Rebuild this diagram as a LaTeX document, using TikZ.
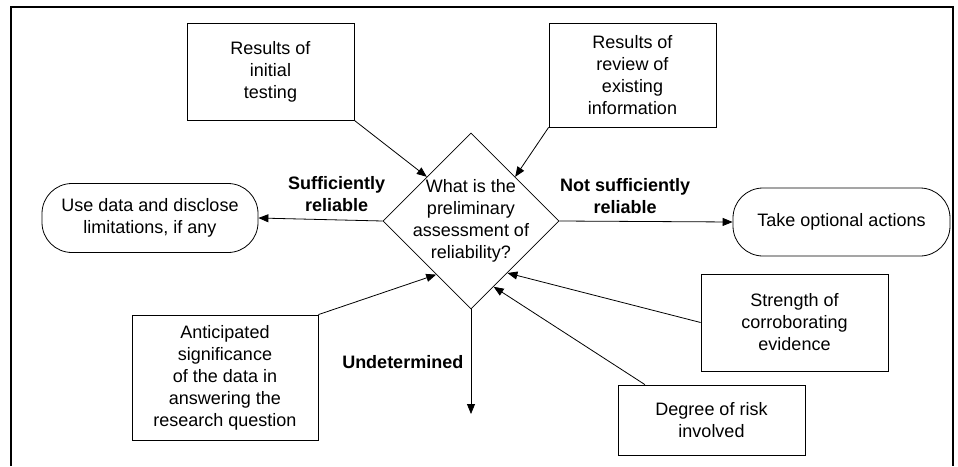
\documentclass[tikz,border=0pt]{standalone}
\usepackage{fontspec}
\setmainfont{Liberation Sans}
\usetikzlibrary{arrows.meta, shapes.geometric}

\begin{document}
\begin{tikzpicture}[
    x=1pt, y=-1pt,
    every node/.style={align=center, font=\fontsize{18}{22}\selectfont},
    arrow/.style={-{Triangle[length=10pt, width=8pt]}, line width=0.8pt},
    factor/.style={rectangle, draw, line width=0.8pt, inner sep=2pt},
    outcome/.style={rectangle, draw, rounded corners=30pt, line width=0.8pt},
    decision/.style={diamond, draw, line width=0.8pt, minimum width=176pt, minimum height=176pt, inner sep=-8pt},
    choice/.style={font=\fontsize{18}{22}\selectfont\bfseries}
]
\useasboundingbox (0,0) rectangle (958,466);
\draw[line width=1.2pt] (11,466) -- (11,7) -- (953,7) -- (953,466);

% question and outcomes
\node[decision] (Q) at (471,221) {What is the\\preliminary\\assessment of\\reliability?};
\node[outcome, minimum width=216pt, minimum height=69pt] (U) at (150,218) {Use data and disclose\\limitations, if any};
\node[outcome, minimum width=217pt, minimum height=68pt] (T) at (841.5,222) {Take optional actions};
\coordinate (D) at (471,414);

% factors
\node[factor, minimum width=167pt, minimum height=97pt] (IT) at (270.5,71.5) {Results of\\initial\\testing};
\node[factor, minimum width=167pt, minimum height=104pt] (RV) at (632.5,75) {Results of\\review of\\existing\\information};
\node[factor, minimum width=186pt, minimum height=125pt] (AS) at (225,377.5) {Anticipated\\significance\\of the data in\\answering the\\research question};
\node[factor, minimum width=187pt, minimum height=97pt] (SC) at (794.5,322.5) {Strength of\\corroborating\\evidence};
\node[factor, minimum width=187pt, minimum height=70pt] (DR) at (711.5,420) {Degree of risk\\involved};

\draw[arrow] (IT.south east) -- (Q.north west);
\draw[arrow] (RV.south west) -- (Q.north east);
\draw[arrow] (AS.north east) -- (Q.237);
\draw[arrow] (SC.west) -- (Q.305);
\draw[arrow] (DR.152) -- (Q.289);

\draw[arrow] (Q.west) -- node[choice, above=4pt, pos=0.37] {Sufficiently\\reliable} (U.east);
\draw[arrow] (Q.east) -- node[choice, above=4pt, pos=0.38] {Not sufficiently\\reliable} (T.west);
\draw[arrow] (Q.south) -- node[choice, left=4pt] {Undetermined} (D);
\end{tikzpicture}
\end{document}
